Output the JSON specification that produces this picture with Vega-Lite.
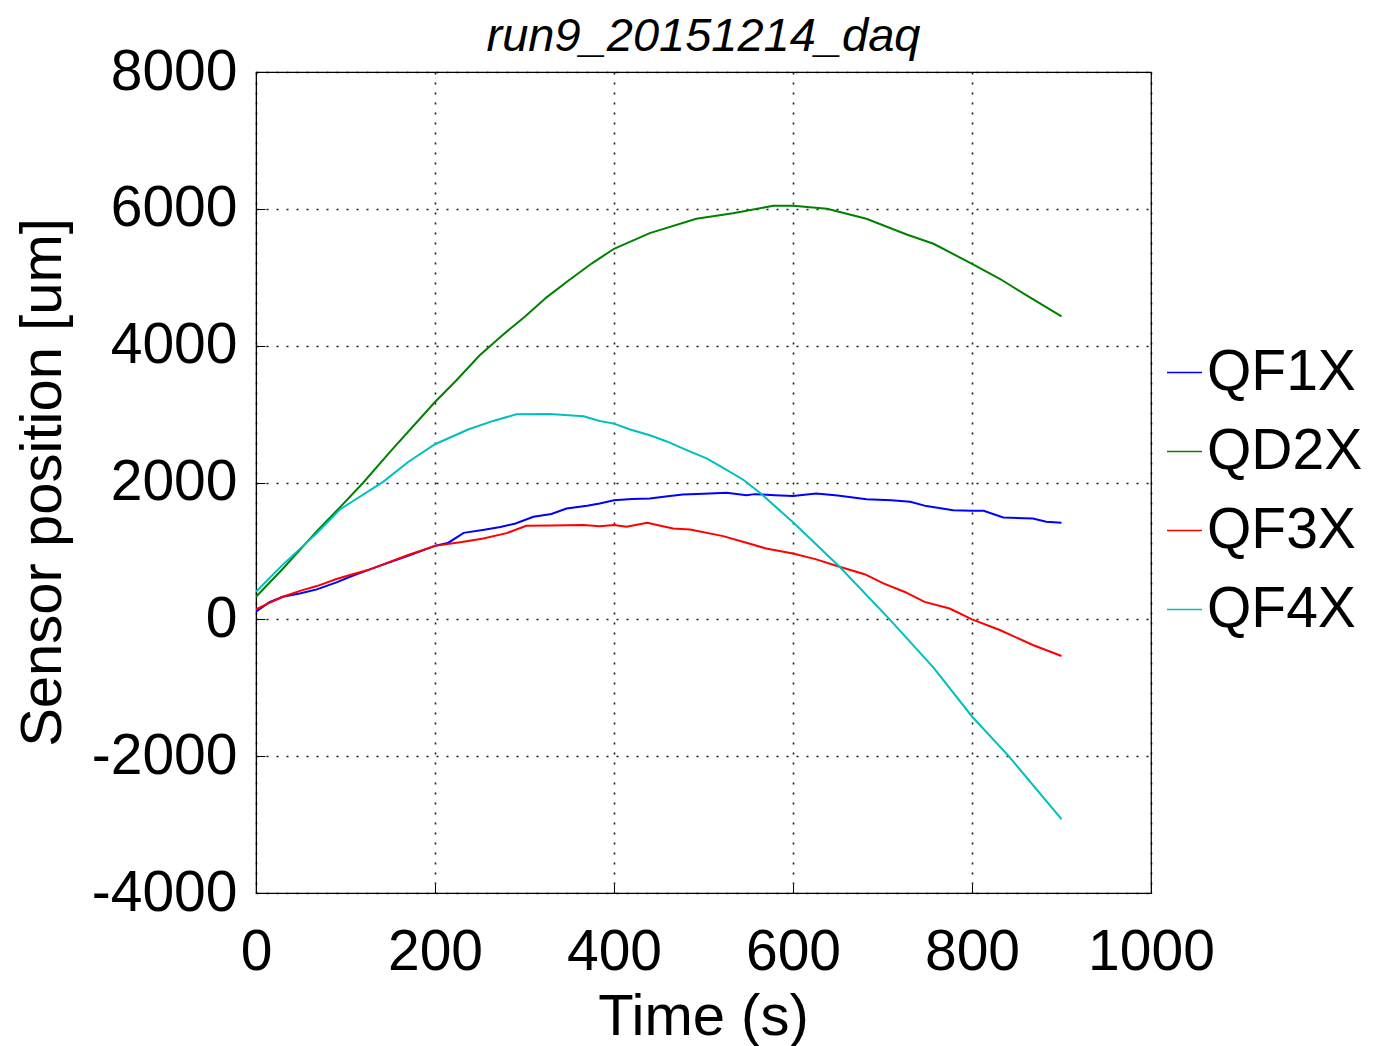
{
  "$schema": "https://vega.github.io/schema/vega-lite/v6.json",
  "autosize": {"type": "none"},
  "padding": {"left": 256, "top": 72, "right": 222, "bottom": 153},
  "width": 895,
  "height": 821,
  "background": "white",
  "title": {
    "text": "run9_20151214_daq",
    "font": "Liberation Sans",
    "fontSize": 47,
    "fontStyle": "italic",
    "fontWeight": "normal",
    "color": "black",
    "anchor": "middle",
    "frame": "group",
    "offset": -18
  },
  "config": {
    "view": {"stroke": "black", "strokeWidth": 1.2},
    "font": "Liberation Sans"
  },
  "datasets": {
    "series": [
      {"t": 0, "v": 111, "s": "QF1X"}, {"t": 15, "v": 250, "s": "QF1X"}, {"t": 30, "v": 330, "s": "QF1X"}, {"t": 50, "v": 380, "s": "QF1X"},
      {"t": 68, "v": 438, "s": "QF1X"}, {"t": 90, "v": 540, "s": "QF1X"}, {"t": 105, "v": 622, "s": "QF1X"}, {"t": 125, "v": 720, "s": "QF1X"},
      {"t": 142, "v": 800, "s": "QF1X"}, {"t": 170, "v": 930, "s": "QF1X"}, {"t": 200, "v": 1074, "s": "QF1X"}, {"t": 215, "v": 1120, "s": "QF1X"},
      {"t": 232, "v": 1264, "s": "QF1X"}, {"t": 255, "v": 1310, "s": "QF1X"}, {"t": 273, "v": 1350, "s": "QF1X"}, {"t": 290, "v": 1400, "s": "QF1X"},
      {"t": 310, "v": 1498, "s": "QF1X"}, {"t": 330, "v": 1540, "s": "QF1X"}, {"t": 347, "v": 1620, "s": "QF1X"}, {"t": 370, "v": 1660, "s": "QF1X"},
      {"t": 384, "v": 1693, "s": "QF1X"}, {"t": 400, "v": 1742, "s": "QF1X"}, {"t": 420, "v": 1760, "s": "QF1X"}, {"t": 440, "v": 1766, "s": "QF1X"},
      {"t": 460, "v": 1800, "s": "QF1X"}, {"t": 477, "v": 1825, "s": "QF1X"}, {"t": 500, "v": 1835, "s": "QF1X"}, {"t": 526, "v": 1849, "s": "QF1X"},
      {"t": 548, "v": 1815, "s": "QF1X"}, {"t": 557, "v": 1830, "s": "QF1X"}, {"t": 580, "v": 1815, "s": "QF1X"}, {"t": 600, "v": 1801, "s": "QF1X"},
      {"t": 626, "v": 1839, "s": "QF1X"}, {"t": 650, "v": 1810, "s": "QF1X"}, {"t": 682, "v": 1756, "s": "QF1X"}, {"t": 710, "v": 1740, "s": "QF1X"},
      {"t": 731, "v": 1718, "s": "QF1X"}, {"t": 749, "v": 1655, "s": "QF1X"}, {"t": 779, "v": 1596, "s": "QF1X"}, {"t": 800, "v": 1586, "s": "QF1X"},
      {"t": 813, "v": 1586, "s": "QF1X"}, {"t": 835, "v": 1489, "s": "QF1X"}, {"t": 868, "v": 1474, "s": "QF1X"}, {"t": 883, "v": 1425, "s": "QF1X"},
      {"t": 900, "v": 1410, "s": "QF1X"},

      {"t": 0, "v": 330, "s": "QD2X"}, {"t": 30, "v": 740, "s": "QD2X"}, {"t": 68, "v": 1290, "s": "QD2X"}, {"t": 94, "v": 1640, "s": "QD2X"},
      {"t": 120, "v": 2000, "s": "QD2X"}, {"t": 150, "v": 2450, "s": "QD2X"}, {"t": 200, "v": 3177, "s": "QD2X"}, {"t": 224, "v": 3494, "s": "QD2X"},
      {"t": 250, "v": 3860, "s": "QD2X"}, {"t": 275, "v": 4150, "s": "QD2X"}, {"t": 300, "v": 4420, "s": "QD2X"}, {"t": 325, "v": 4710, "s": "QD2X"},
      {"t": 350, "v": 4960, "s": "QD2X"}, {"t": 375, "v": 5200, "s": "QD2X"}, {"t": 400, "v": 5416, "s": "QD2X"}, {"t": 440, "v": 5645, "s": "QD2X"},
      {"t": 492, "v": 5855, "s": "QD2X"}, {"t": 533, "v": 5937, "s": "QD2X"}, {"t": 578, "v": 6044, "s": "QD2X"}, {"t": 600, "v": 6044, "s": "QD2X"},
      {"t": 638, "v": 6000, "s": "QD2X"}, {"t": 682, "v": 5855, "s": "QD2X"}, {"t": 727, "v": 5625, "s": "QD2X"}, {"t": 757, "v": 5489, "s": "QD2X"},
      {"t": 800, "v": 5197, "s": "QD2X"}, {"t": 831, "v": 4978, "s": "QD2X"}, {"t": 861, "v": 4734, "s": "QD2X"}, {"t": 900, "v": 4428, "s": "QD2X"},

      {"t": 0, "v": 146, "s": "QF3X"}, {"t": 15, "v": 240, "s": "QF3X"}, {"t": 30, "v": 330, "s": "QF3X"}, {"t": 50, "v": 420, "s": "QF3X"},
      {"t": 68, "v": 486, "s": "QF3X"}, {"t": 90, "v": 590, "s": "QF3X"}, {"t": 105, "v": 647, "s": "QF3X"}, {"t": 125, "v": 720, "s": "QF3X"},
      {"t": 142, "v": 803, "s": "QF3X"}, {"t": 170, "v": 940, "s": "QF3X"}, {"t": 200, "v": 1074, "s": "QF3X"}, {"t": 230, "v": 1130, "s": "QF3X"},
      {"t": 254, "v": 1182, "s": "QF3X"}, {"t": 280, "v": 1260, "s": "QF3X"}, {"t": 302, "v": 1367, "s": "QF3X"}, {"t": 330, "v": 1372, "s": "QF3X"},
      {"t": 366, "v": 1377, "s": "QF3X"}, {"t": 384, "v": 1362, "s": "QF3X"}, {"t": 400, "v": 1377, "s": "QF3X"}, {"t": 414, "v": 1352, "s": "QF3X"},
      {"t": 437, "v": 1410, "s": "QF3X"}, {"t": 466, "v": 1328, "s": "QF3X"}, {"t": 485, "v": 1313, "s": "QF3X"}, {"t": 522, "v": 1216, "s": "QF3X"},
      {"t": 545, "v": 1130, "s": "QF3X"}, {"t": 570, "v": 1036, "s": "QF3X"}, {"t": 600, "v": 963, "s": "QF3X"}, {"t": 625, "v": 880, "s": "QF3X"},
      {"t": 652, "v": 768, "s": "QF3X"}, {"t": 680, "v": 660, "s": "QF3X"}, {"t": 701, "v": 525, "s": "QF3X"}, {"t": 725, "v": 400, "s": "QF3X"},
      {"t": 747, "v": 255, "s": "QF3X"}, {"t": 775, "v": 158, "s": "QF3X"}, {"t": 800, "v": 0, "s": "QF3X"}, {"t": 831, "v": -156, "s": "QF3X"},
      {"t": 868, "v": -375, "s": "QF3X"}, {"t": 900, "v": -536, "s": "QF3X"},

      {"t": 0, "v": 403, "s": "QF4X"}, {"t": 30, "v": 800, "s": "QF4X"}, {"t": 68, "v": 1260, "s": "QF4X"}, {"t": 94, "v": 1610, "s": "QF4X"},
      {"t": 105, "v": 1700, "s": "QF4X"}, {"t": 142, "v": 2009, "s": "QF4X"}, {"t": 170, "v": 2300, "s": "QF4X"}, {"t": 200, "v": 2559, "s": "QF4X"},
      {"t": 237, "v": 2774, "s": "QF4X"}, {"t": 265, "v": 2900, "s": "QF4X"}, {"t": 291, "v": 2997, "s": "QF4X"}, {"t": 328, "v": 3000, "s": "QF4X"},
      {"t": 366, "v": 2968, "s": "QF4X"}, {"t": 384, "v": 2900, "s": "QF4X"}, {"t": 400, "v": 2861, "s": "QF4X"}, {"t": 418, "v": 2774, "s": "QF4X"},
      {"t": 440, "v": 2690, "s": "QF4X"}, {"t": 459, "v": 2600, "s": "QF4X"}, {"t": 480, "v": 2480, "s": "QF4X"}, {"t": 504, "v": 2350, "s": "QF4X"},
      {"t": 520, "v": 2230, "s": "QF4X"}, {"t": 544, "v": 2044, "s": "QF4X"}, {"t": 563, "v": 1849, "s": "QF4X"}, {"t": 600, "v": 1420, "s": "QF4X"},
      {"t": 652, "v": 768, "s": "QF4X"}, {"t": 708, "v": 0, "s": "QF4X"}, {"t": 757, "v": -706, "s": "QF4X"}, {"t": 800, "v": -1420, "s": "QF4X"},
      {"t": 841, "v": -2000, "s": "QF4X"}, {"t": 900, "v": -2920, "s": "QF4X"}
    ]
  },
  "data": {"name": "series"},
  "mark": {"type": "line", "strokeWidth": 2, "clip": true},
  "encoding": {
    "x": {
      "field": "t",
      "type": "quantitative",
      "scale": {"domain": [0, 1000], "nice": false, "zero": false},
      "axis": {
        "title": "Time (s)",
        "values": [0, 200, 400, 600, 800, 1000],
        "labelExpr": "datum.value < 0 ? '-' + abs(datum.value) : '' + datum.value",
        "grid": true,
        "gridColor": "black",
        "gridDash": [2, 8],
        "gridWidth": 1.6,
        "gridOpacity": 0.9,
        "domainColor": "black",
        "tickColor": "black",
        "tickSize": -9,
        "labelPadding": 40,
        "labelFont": "Liberation Sans",
        "labelFontSize": 57,
        "labelColor": "black",
        "labelFlush": false,
        "labelOverlap": false,
        "titleFont": "Liberation Sans",
        "titleFontSize": 58,
        "titleFontWeight": "normal",
        "titleColor": "black",
        "titleX": 447,
        "titleY": 141,
        "titleBaseline": "alphabetic",
        "titleAlign": "center"
      }
    },
    "y": {
      "field": "v",
      "type": "quantitative",
      "scale": {"domain": [-4000, 8000], "nice": false, "zero": false},
      "axis": {
        "title": "Sensor position [um]",
        "values": [-4000, -2000, 0, 2000, 4000, 6000, 8000],
        "labelExpr": "datum.value < 0 ? '-' + abs(datum.value) : '' + datum.value",
        "grid": true,
        "gridColor": "black",
        "gridDash": [2, 8],
        "gridWidth": 1.6,
        "gridOpacity": 0.9,
        "domainColor": "black",
        "tickColor": "black",
        "tickSize": -9,
        "labelPadding": 28,
        "labelFont": "Liberation Sans",
        "labelFontSize": 57,
        "labelColor": "black",
        "labelFlush": false,
        "labelOverlap": false,
        "titleFont": "Liberation Sans",
        "titleFontSize": 58,
        "titleFontWeight": "normal",
        "titleColor": "black",
        "titleAngle": -90,
        "titleX": -196,
        "titleY": 410,
        "titleBaseline": "alphabetic",
        "titleAlign": "center"
      }
    },
    "color": {
      "field": "s",
      "type": "nominal",
      "scale": {"domain": ["QF1X", "QD2X", "QF3X", "QF4X"], "range": ["#0000ff", "#008000", "#ff0000", "#00bfbf"]},
      "legend": {
        "title": null,
        "orient": "none",
        "legendX": 900,
        "legendY": 272,
        "padding": 0,
        "symbolType": "stroke",
        "symbolSize": 1225,
        "symbolStrokeWidth": 1.6,
        "labelFont": "Liberation Sans",
        "labelFontSize": 57,
        "labelColor": "black",
        "labelOffset": -6,
        "rowPadding": 21,
        "labelLimit": 300
      }
    }
  }
}
